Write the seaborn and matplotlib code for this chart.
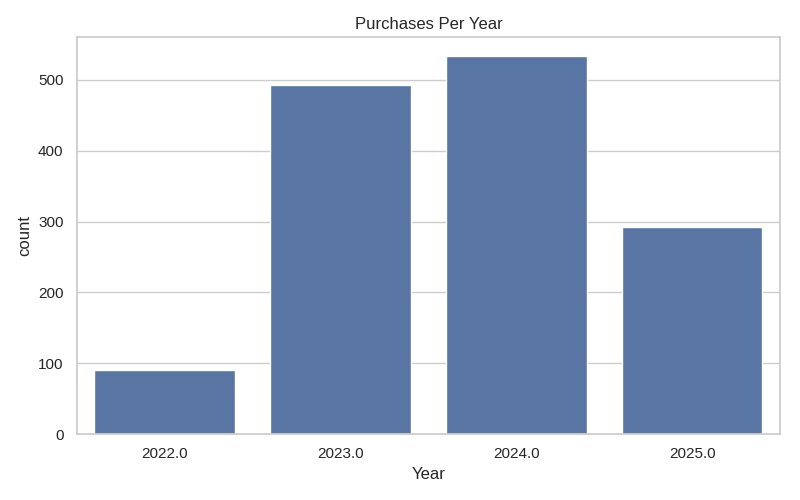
import matplotlib
matplotlib.use("Agg")
import matplotlib.pyplot as plt
import seaborn as sns
import pandas as pd

# 每年购买次数
years = ["2022.0", "2023.0", "2024.0", "2025.0"]
counts = [90, 493, 534, 293]

df = pd.DataFrame({"Year": years, "count": counts})

sns.set_theme(style="whitegrid")
plt.rcParams["font.family"] = ["Liberation Sans", "DejaVu Sans"]
fig, ax = plt.subplots(figsize=(8, 5), dpi=100)
sns.barplot(data=df, x="Year", y="count", color="#4c72b0", ax=ax)
ax.set_title("Purchases Per Year")
ax.set_xlabel("Year")
ax.set_ylabel("count")
plt.subplots_adjust(left=0.096, right=0.975, top=0.926, bottom=0.132)
plt.savefig("out.png", dpi=100)
